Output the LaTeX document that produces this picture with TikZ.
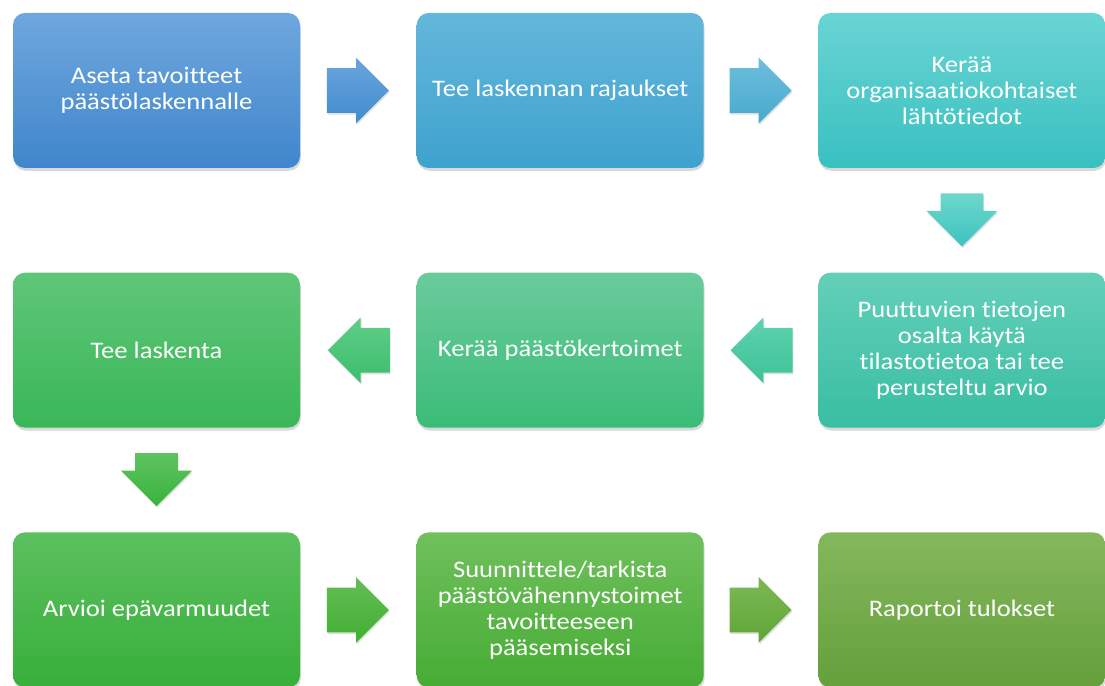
\documentclass[tikz,border=0pt]{standalone}
\usepackage{fontspec}
\setmainfont{Carlito}[FakeStretch=1.12, Ligatures=NoCommon]
\usetikzlibrary{positioning, shapes.arrows, shadows, calc}

\definecolor{goalsT}{RGB}{111,167,222}   \definecolor{goalsB}{RGB}{64,134,204}
\definecolor{scopeT}{RGB}{100,183,219}   \definecolor{scopeB}{RGB}{62,162,206}
\definecolor{orgdataT}{RGB}{105,212,212} \definecolor{orgdataB}{RGB}{58,192,192}
\definecolor{missingT}{RGB}{100,207,185} \definecolor{missingB}{RGB}{56,190,162}
\definecolor{factorsT}{RGB}{105,203,155} \definecolor{factorsB}{RGB}{58,188,120}
\definecolor{calcT}{RGB}{95,198,120}     \definecolor{calcB}{RGB}{58,183,88}
\definecolor{uncertT}{RGB}{92,192,95}    \definecolor{uncertB}{RGB}{55,175,58}
\definecolor{planT}{RGB}{112,192,92}     \definecolor{planB}{RGB}{70,172,52}
\definecolor{reportT}{RGB}{133,183,92}   \definecolor{reportB}{RGB}{100,160,60}

\begin{document}
\begin{tikzpicture}[font=\fontsize{13.5}{14.8}\selectfont,
	block/.style={rounded corners=0.24cm, minimum width=5.74cm, minimum height=3.1cm, inner sep=0pt, align=center, text=white,
		drop shadow={opacity=0.3, shadow xshift=0.5pt, shadow yshift=-1.6pt}},
	shade/.style={top color=#1T, bottom color=#1B},
	harrow/.style={single arrow, anchor=tip, inner sep=0pt, text height=0.88cm, text depth=0pt, single arrow head extend=0.21cm, minimum height=1.24cm,
		drop shadow={opacity=0.25, shadow xshift=0.5pt, shadow yshift=-1pt}},
	varrow/.style={harrow, text height=0pt, text width=0.84cm, single arrow head extend=0.28cm, minimum height=1.06cm, shape border rotate=270}]

	\useasboundingbox (0,0) rectangle (22.1,-13.72);

	\node[block, shade=goals] (goals) at (3.13,-1.81) {Aseta tavoitteet\\päästölaskennalle};
	\node[block, shade=scope, right=2.32cm of goals] (scope) {Tee laskennan rajaukset};
	\node[block, shade=orgdata, right=2.28cm of scope] (orgdata) {Kerää\\organisaatiokohtaiset\\lähtötiedot};

	\node[block, shade=missing, below=2.08cm of orgdata] (missing) {Puuttuvien tietojen\\osalta käytä\\tilastotietoa tai tee\\perusteltu arvio};
	\node[block, shade=factors, left=2.28cm of missing] (factors) {Kerää päästökertoimet};
	\node[block, shade=calc, left=2.32cm of factors] (calc) {Tee laskenta};

	\node[block, shade=uncert, below=2.08cm of calc] (uncert) {Arvioi epävarmuudet};
	\node[block, shade=plan, right=2.32cm of uncert] (plan) {Suunnittele/tarkista\\päästövähennystoimet\\tavoitteeseen\\pääsemiseksi};
	\node[block, shade=report, right=2.28cm of plan] (report) {Raportoi tulokset};

	% nuolet laatikoiden väliin (kärki sijoitetaan)
	\node[harrow, top color={rgb,255:red,105;green,165;blue,222}, bottom color={rgb,255:red,65;green,140;blue,205}] (goals_scope) at ($(goals.east)!0.5!(scope.west)+(0.62,0)$) {};
	\node[harrow, top color={rgb,255:red,110;green,190;blue,220}, bottom color={rgb,255:red,70;green,170;blue,205}] (scope_orgdata) at ($(scope.east)!0.5!(orgdata.west)+(0.62,0)$) {};
	\node[varrow, top color={rgb,255:red,110;green,215;blue,205}, bottom color={rgb,255:red,60;green,195;blue,190}] (orgdata_missing) at ($(orgdata.south)!0.5!(missing.north)-(0,0.53)$) {};
	\node[harrow, shape border rotate=180, top color={rgb,255:red,95;green,210;blue,175}, bottom color={rgb,255:red,60;green,195;blue,150}] (missing_factors) at ($(missing.west)!0.5!(factors.east)-(0.62,0)$) {};
	\node[harrow, shape border rotate=180, top color={rgb,255:red,95;green,205;blue,135}, bottom color={rgb,255:red,60;green,190;blue,110}] (factors_calc) at ($(factors.west)!0.5!(calc.east)-(0.62,0)$) {};
	\node[varrow, top color={rgb,255:red,95;green,195;blue,95}, bottom color={rgb,255:red,55;green,180;blue,60}] (calc_uncert) at ($(calc.south)!0.5!(uncert.north)-(0,0.53)$) {};
	\node[harrow, top color={rgb,255:red,100;green,190;blue,85}, bottom color={rgb,255:red,65;green,175;blue,50}] (uncert_plan) at ($(uncert.east)!0.5!(plan.west)+(0.62,0)$) {};
	\node[harrow, top color={rgb,255:red,125;green,185;blue,85}, bottom color={rgb,255:red,95;green,165;blue,55}] (plan_report) at ($(plan.east)!0.5!(report.west)+(0.62,0)$) {};
\end{tikzpicture}
\end{document}
